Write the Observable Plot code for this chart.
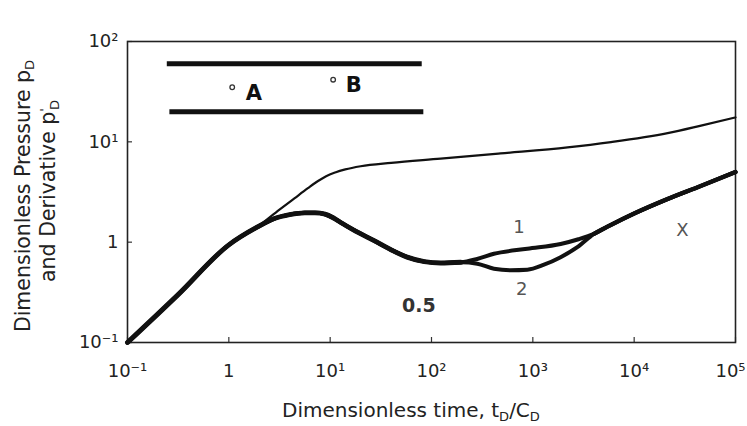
<!DOCTYPE html>
<html><head><meta charset="utf-8">
<script src="https://cdn.jsdelivr.net/npm/d3@7"></script>
<script src="https://cdn.jsdelivr.net/npm/@observablehq/plot@0.6"></script>
<style>html,body{margin:0;padding:0;background:#fff;}</style>
</head><body><div id="chart"></div>
<script>
// Axis ticks
const xTickValues = [0.1, 1, 10, 100, 1000, 10000, 100000];
const xTickLabels = ["10\u207B\u00B9", "1", "10\u00B9", "10\u00B2", "10\u00B3", "10\u2074", "10\u2075"];
const yTickValues = [0.1, 1, 10, 100];
const yTickLabels = ["10\u207B\u00B9", "1", "10\u00B9", "10\u00B2"];

// Dimensionless pressure (thin curve)
const pressureT = [0.1, 0.316, 1, 1.9, 3.16, 4.47, 6.03, 7.59, 9.12, 11.2, 14.1, 20, 40, 123, 480, 2200, 5900, 21400, 45700, 100000];
const pressureP = [0.1, 0.30, 0.94, 1.41, 2.11, 2.75, 3.45, 4.07, 4.55, 4.95, 5.31, 5.71, 6.17, 6.79, 7.66, 8.79, 9.93, 12.2, 14.5, 17.5];

// Derivative (thick curve): common early part, two branches, common late part
const earlyT = [0.1, 0.316, 1, 1.9, 2.82, 3.98, 5.62, 7.08, 8.91, 10.7, 12.6, 17.8, 26.9, 39.8, 57.5, 85, 123, 195];
const earlyD = [0.1, 0.30, 0.94, 1.41, 1.72, 1.88, 1.96, 1.96, 1.90, 1.75, 1.58, 1.29, 1.04, 0.84, 0.71, 0.64, 0.62, 0.63];
const branch1T = [282, 413, 883, 1880, 2820];
const branch1D = [0.68, 0.766, 0.86, 0.96, 1.07];
const branch2T = [283, 413, 603, 883, 1288, 1880, 2750];
const branch2D = [0.61, 0.543, 0.525, 0.531, 0.596, 0.708, 0.891];
const lateT = [4010, 5860, 10000, 21300, 45400, 100000];
const lateD = [1.21, 1.48, 1.93, 2.69, 3.63, 5.0];

// Schematic bars and wells
const barY = [60, 20];
const barX1 = [0.247, 0.262];
const barX2 = [81, 84];
const wellNames = ["A", "B"];
const wellDotX = [1.08, 10.7];
const wellDotY = [35, 41.6];
const wellLabelX = [1.77, 17.1];
const wellLabelY = [30.2, 36.5];

// Curve annotations
const curveLabels = ["1", "2", "X"];
const curveLabelX = [730, 776, 29900];
const curveLabelY = [1.41, 0.34, 1.31];
const boldLabels = ["0.5"];
const boldLabelX = [75];
const boldLabelY = [0.234];

const pts = (T, V) => T.map((t, i) => ({t, v: V[i]}));
const pressure = pts(pressureT, pressureP);
const early = pts(earlyT, earlyD);
const late = pts(lateT, lateD);
const deriv1 = [...early, ...pts(branch1T, branch1D), ...late];
const deriv2 = [...early, ...pts(branch2T, branch2D), ...late];
const bars = barY.map((y, i) => ({y, x1: barX1[i], x2: barX2[i]}));
const wells = wellNames.map((n, i) => ({n, dx: wellDotX[i], dy: wellDotY[i], lx: wellLabelX[i], ly: wellLabelY[i]}));
const notes = curveLabels.map((s, i) => ({s, x: curveLabelX[i], y: curveLabelY[i]}));
const boldNotes = boldLabels.map((s, i) => ({s, x: boldLabelX[i], y: boldLabelY[i]}));

const font = "DejaVu Sans";
const W = 747, H = 426, mL = 127, mR = 12, mT = 41, mB = 84;
const plotW = W - mL - mR, plotH = H - mT - mB;
const curve = "monotone-x";

const plot = Plot.plot({
  width: W,
  height: H,
  marginLeft: mL,
  marginRight: mR,
  marginTop: mT,
  marginBottom: mB,
  style: {fontFamily: font, fontSize: "18px", color: "#222", background: "#fff"},
  x: {type: "log", domain: [0.1, 100000]},
  y: {type: "log", domain: [0.1, 100]},
  marks: [
    Plot.axisX({ticks: xTickValues, tickFormat: d => xTickLabels[xTickValues.indexOf(d)], tickSize: 0, tickPadding: 22, label: null, fontSize: 18}),
    Plot.axisY({ticks: yTickValues, tickFormat: d => yTickLabels[yTickValues.indexOf(d)], tickSize: 0, tickPadding: 9, label: null, fontSize: 18}),
    Plot.tickX(xTickValues, {x: d => d, insetTop: plotH - 5, stroke: "#333", strokeWidth: 1.2}),
    Plot.tickY(yTickValues, {y: d => d, insetRight: plotW - 5, stroke: "#333", strokeWidth: 1.2}),
    Plot.frame({stroke: "#222", strokeWidth: 1.6}),
    Plot.ruleY(bars, {y: "y", x1: "x1", x2: "x2", stroke: "#111", strokeWidth: 5}),
    Plot.dot(wells, {x: "dx", y: "dy", r: 2.3, stroke: "#333", strokeWidth: 1.3, fill: "#fff"}),
    Plot.text(wells, {x: "lx", y: "ly", text: "n", fontSize: 21, fontWeight: "bold", fill: "#111"}),
    Plot.line(pressure, {x: "t", y: "v", stroke: "#111", strokeWidth: 2.2, curve}),
    Plot.line(deriv1, {x: "t", y: "v", stroke: "#111", strokeWidth: 4, curve}),
    Plot.line(deriv2, {x: "t", y: "v", stroke: "#111", strokeWidth: 4, curve}),
    Plot.line(early, {x: "t", y: "v", stroke: "#111", strokeWidth: 4.9, curve}),
    Plot.line(late, {x: "t", y: "v", stroke: "#111", strokeWidth: 4.4, curve}),
    Plot.text(notes, {x: "x", y: "y", text: "s", fontSize: 18, fill: "#555"}),
    Plot.text(boldNotes, {x: "x", y: "y", text: "s", fontSize: 19, fill: "#333", fontWeight: "bold"})
  ]
});

const svg = d3.select(plot);
// nudge the last x tick label inside the picture
svg.selectAll("text").filter(function() { return this.textContent === "10\u2075"; }).attr("dx", -5);

// x axis label with subscripts
const xl = svg.append("text").attr("x", 282).attr("y", 417).attr("text-anchor", "start")
  .attr("font-size", 20).attr("fill", "#222").attr("font-family", font);
xl.append("tspan").text("Dimensionless time, t");
xl.append("tspan").attr("dy", 4).attr("font-size", 13).text("D");
xl.append("tspan").attr("dy", -4).text("/C");
xl.append("tspan").attr("dy", 4).attr("font-size", 13).text("D");

// y axis label, two lines
const yl1 = svg.append("text").attr("transform", "translate(30,196) rotate(-90)").attr("text-anchor", "middle")
  .attr("font-size", 20.5).attr("fill", "#222").attr("font-family", font);
yl1.append("tspan").text("Dimensionless Pressure p");
yl1.append("tspan").attr("dy", 4).attr("font-size", 13).text("D");
const yl2 = svg.append("text").attr("transform", "translate(55,191) rotate(-90)").attr("text-anchor", "middle")
  .attr("font-size", 20.5).attr("fill", "#222").attr("font-family", font);
yl2.append("tspan").text("and Derivative p");
yl2.append("tspan").attr("dy", -6).attr("font-size", 13).text("'");
yl2.append("tspan").attr("dy", 10).attr("dx", -2).attr("font-size", 13).text("D");

document.getElementById("chart").appendChild(plot);
</script>
</body></html>
